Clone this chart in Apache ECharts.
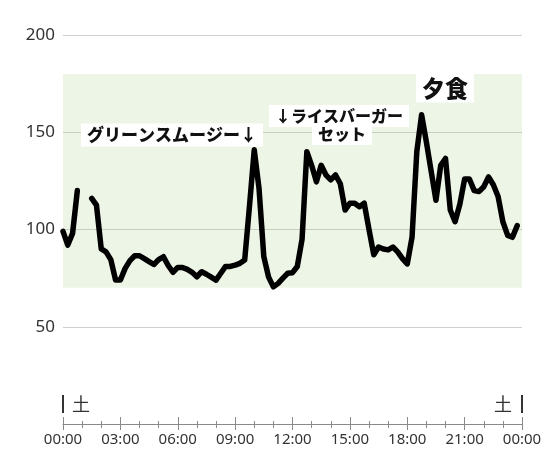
<!DOCTYPE html>
<html>
<head>
<meta charset="utf-8">
<script src="https://cdn.jsdelivr.net/npm/echarts@6/dist/echarts.min.js"></script>
<style>
  html, body { margin: 0; padding: 0; background: #fff; }
  #chart { width: 550px; height: 466px; }
</style>
</head>
<body>
<div id="chart"></div>
<script>
// blood glucose every 15 min (mg/dL), null = sensor gap
const glucose = [
  99, 92, 98, 120, null, null, 116, 112.5, 90, 88.5, 84.5, 74,
  74, 80, 84, 86.5, 86.5, 85, 83.5, 82, 84.5, 86, 81.5, 78,
  80.5, 80.5, 79.5, 78, 75.7, 78.3, 77, 75.5, 74, 77.5, 81, 81,
  81.7, 82.6, 84.3, 112, 141, 121, 86, 75.5, 70.5, 72.3, 75, 77.5,
  77.8, 81, 95, 140, 133, 124.5, 133, 128, 125.5, 128, 123.5, 110,
  113.5, 113.5, 111.7, 113.5, 100, 87, 91, 90, 89.5, 91, 88.5, 85,
  82.3, 96, 140, 159, 145, 130, 115, 133, 136.5, 110, 104, 113,
  126, 126, 120, 119.5, 122, 127, 123, 117, 104, 97, 96, 102
];
const slotHours = glucose.map((_, i) => i / 4);
const yTicks = [50, 100, 150, 200];
const targetRange = [70, 180];
const dayLabel = '土';

const myChart = echarts.init(document.getElementById('chart'));

const fmtHour = (v) => String(v % 24).padStart(2, '0') + ':00';
const jp = '"Noto Sans CJK JP", "Noto Sans", sans-serif';

function note(text, cx, cy, size) {
  return {
    type: 'text',
    x: cx, y: cy,
    z: 100,
    style: {
      text: text,
      fill: '#111',
      font: '900 ' + size + 'px ' + jp,
      align: 'center',
      verticalAlign: 'middle',
      backgroundColor: '#fff',
      padding: [3, 6]
    }
  };
}

myChart.setOption({
  animation: false,
  backgroundColor: '#fff',
  grid: {left: 63, right: 28, top: 35, bottom: 42},
  xAxis: [{
    type: 'value',
    min: 0, max: 24, interval: 3,
    axisLine: {lineStyle: {color: '#8a8a8a', width: 1}},
    axisTick: {show: true, length: 6, lineStyle: {color: '#8a8a8a'}},
    minorTick: {show: true, splitNumber: 3, length: 4, lineStyle: {color: '#8a8a8a'}},
    splitLine: {show: false},
    axisLabel: {
      formatter: fmtHour, color: '#333', fontSize: 15, margin: 8,
      fontFamily: '"Noto Sans", sans-serif'
    }
  }, {
    type: 'value',
    position: 'bottom',
    min: 0, max: 24, interval: 3,
    axisLine: {show: false},
    axisTick: {show: true, inside: true, length: 7, lineStyle: {color: '#8a8a8a'}},
    minorTick: {show: true, splitNumber: 3, length: 3, lineStyle: {color: '#8a8a8a'}},
    splitLine: {show: false},
    axisLabel: {show: false}
  }],
  yAxis: {
    type: 'value',
    min: 0, max: 200, interval: 50,
    axisLine: {show: false},
    axisTick: {show: false},
    splitLine: {
      show: true,
      lineStyle: {color: '#cfcfcf', width: 1}
    },
    axisLabel: {
      formatter: (v) => yTicks.includes(v) ? String(v) : '',
      color: '#333', fontSize: 17, margin: 8,
      fontFamily: '"Noto Sans", sans-serif'
    }
  },
  series: [{
    type: 'line',
    data: slotHours.map((h, i) => [h, glucose[i]]),
    showSymbol: false,
    symbol: 'none',
    connectNulls: false,
    lineStyle: {color: '#000', width: 5.5, cap: 'round', join: 'round'},
    z: 10,
    markArea: {
      silent: true,
      itemStyle: {color: 'rgba(165,205,130,0.2)'},
      data: [[{yAxis: targetRange[0], xAxis: 0}, {yAxis: targetRange[1], xAxis: 24}]]
    }
  }],
  graphic: [
    {type: 'line', shape: {x1: 63, y1: 395, x2: 63, y2: 413}, style: {stroke: '#333', lineWidth: 2}},
    {type: 'text', x: 81, y: 404, style: {text: dayLabel, fill: '#333', font: '18px ' + jp, align: 'center', verticalAlign: 'middle'}},
    {type: 'line', shape: {x1: 522, y1: 395, x2: 522, y2: 413}, style: {stroke: '#333', lineWidth: 2}},
    {type: 'text', x: 503, y: 404, style: {text: dayLabel, fill: '#333', font: '18px ' + jp, align: 'center', verticalAlign: 'middle'}},
    note('グリーンスムージー↓', 172, 135, 17),
    note('↓ライスバーガー', 339, 116, 16),
    note('セット', 342, 134, 16),
    note('夕食', 445, 88, 23)
  ]
});
</script>
</body>
</html>
